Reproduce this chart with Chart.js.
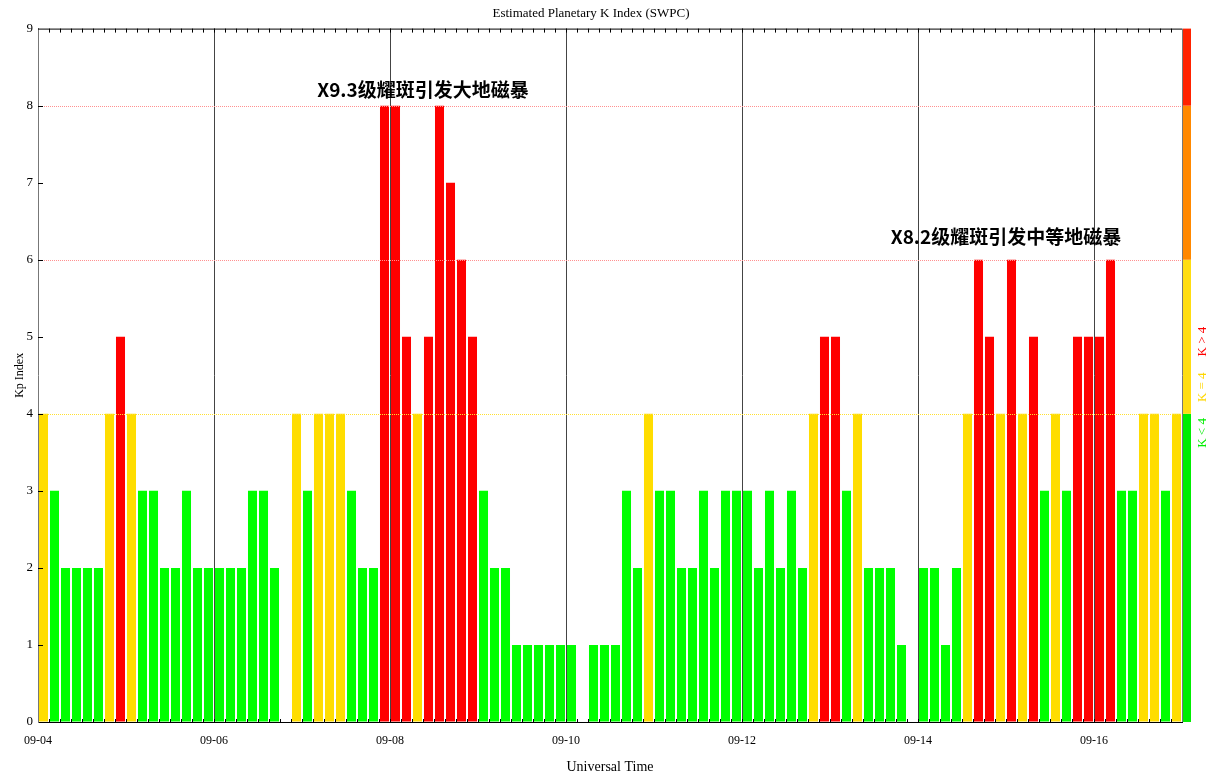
<!DOCTYPE html>
<html>
<head>
<meta charset="UTF-8">
<title>Estimated Planetary K Index (SWPC)</title>
<script src="https://cdn.jsdelivr.net/npm/chart.js@4"></script>
<style>body{margin:0;background:#fff}</style>
</head>
<body>
<div style="width:1221px;height:781px"><canvas id="canvas"></canvas></div>
<script>
// 3-hourly Kp, 8 values per day, starting 09-04 00UT (null = no data)
var kp = [
  4,3,2,2,2,2,4,5,        // 09-04
  4,3,3,2,2,3,2,2,        // 09-05
  2,2,2,3,3,2,null,4,     // 09-06
  3,4,4,4,3,2,2,8,        // 09-07
  8,5,4,5,8,7,6,5,        // 09-08
  3,2,2,1,1,1,1,1,        // 09-09
  1,null,1,1,1,3,2,4,     // 09-10
  3,3,2,2,3,2,3,3,        // 09-11
  3,2,3,2,3,2,4,5,        // 09-12
  5,3,4,2,2,2,1,null,     // 09-13
  2,2,1,2,4,6,5,4,        // 09-14
  6,4,5,3,4,3,5,5,        // 09-15
  5,6,3,3,4,4,3,4         // 09-16
];
var dayLabels = ['09-04','09-06','09-08','09-10','09-12','09-14','09-16'];
var slotsPerLabel = 16;   // 2 days x 8 slots

var barColor = {low: '#00FF00', equal: '#FFDD00', high: '#FF0000'};

// colour key on the right edge (Kp ranges)
var keyBands = [
  {from: 0, to: 4, color: '#00EE00'},
  {from: 4, to: 6, color: '#FFDD11'},
  {from: 6, to: 8, color: '#FF8800'},
  {from: 8, to: 9, color: '#FF2200'}
];
var keyTexts = [
  {text: 'K < 4', color: '#00EE00'},
  {text: 'K = 4', color: '#FFD700'},
  {text: 'K > 4', color: '#FF0000'}
];

// dotted reference lines
var refLines = [
  {y: 4, color: '#FFE030'},
  {y: 6, color: '#FF9090'},
  {y: 8, color: '#FF9090'}
];

// annotations, placed in data units (slot, Kp)
var notes = [
  {x: 35, y: 8.2, text: 'X9.3级耀斑引发大地磁暴'},
  {x: 88, y: 6.3, text: 'X8.2级耀斑引发中等地磁暴'}
];

var serif = '"Liberation Serif", "DejaVu Serif", serif';

var decor = {
  id: 'decor',
  afterDatasetsDraw: function(chart) {
    var ctx = chart.ctx, a = chart.chartArea;
    var xs = chart.scales.x, ys = chart.scales.y;
    ctx.save();

    // reference lines
    ctx.lineWidth = 1;
    ctx.setLineDash([1, 1]);
    refLines.forEach(function(r) {
      var py = Math.round(ys.getPixelForValue(r.y)) + 0.5;
      ctx.strokeStyle = r.color;
      ctx.beginPath(); ctx.moveTo(a.left, py); ctx.lineTo(a.right, py); ctx.stroke();
    });
    ctx.setLineDash([]);

    // frame
    ctx.strokeStyle = '#000';
    ctx.beginPath(); ctx.moveTo(a.left, a.top + 0.5); ctx.lineTo(a.right, a.top + 0.5); ctx.stroke();
    ctx.strokeStyle = '#777';
    ctx.beginPath(); ctx.moveTo(a.right + 0.5, a.top); ctx.lineTo(a.right + 0.5, a.bottom); ctx.stroke();

    // small inward ticks, one per 3h slot
    ctx.strokeStyle = '#000';
    ctx.beginPath();
    for (var i = 1; i < kp.length; i++) {
      var px = Math.round(xs.getPixelForValue(i)) + 0.5;
      ctx.moveTo(px, a.top); ctx.lineTo(px, a.top + 4);
      ctx.moveTo(px, a.bottom); ctx.lineTo(px, a.bottom - 3);
    }
    for (var k = 1; k < 9; k++) {
      var ty = Math.round(ys.getPixelForValue(k)) + 0.5;
      ctx.moveTo(a.left, ty); ctx.lineTo(a.left + 5, ty);
    }
    ctx.stroke();

    // colour key
    keyBands.forEach(function(b) {
      var y1 = ys.getPixelForValue(b.to), y2 = ys.getPixelForValue(b.from);
      ctx.fillStyle = b.color;
      ctx.fillRect(a.right + 1, y1, 8, y2 - y1);
    });

    // key texts, rotated, stacked upward from below the K=4 line
    ctx.font = '13px ' + serif;
    ctx.textBaseline = 'middle';
    ctx.textAlign = 'left';
    var pos = ys.getPixelForValue(4) + 34;
    ctx.translate(a.right + 21, 0);
    ctx.rotate(-Math.PI / 2);
    keyTexts.forEach(function(t) {
      ctx.fillStyle = t.color;
      ctx.fillText(t.text, -pos, 0);
      pos -= ctx.measureText(t.text).width + 16;
    });
    ctx.setTransform(1, 0, 0, 1, 0, 0);

    // annotations
    ctx.font = 'bold 19px "Noto Sans CJK SC", sans-serif';
    ctx.textAlign = 'center';
    ctx.textBaseline = 'middle';
    ctx.fillStyle = '#000';
    notes.forEach(function(n) {
      ctx.fillText(n.text, xs.getPixelForValue(n.x), ys.getPixelForValue(n.y));
    });
    ctx.restore();
  }
};

window.onload = function() {
  var ctx = document.getElementById('canvas').getContext('2d');
  new Chart(ctx, {
    type: 'bar',
    data: {
      datasets: [{
        label: 'Kp',
        data: kp.map(function(v, i) { return {x: i + 0.5, y: v}; }),
        backgroundColor: function(c) {
          var v = c.raw && c.raw.y;
          return v < 4 ? barColor.low : (v === 4 ? barColor.equal : barColor.high);
        },
        borderWidth: 0,
        barPercentage: 0.82,
        categoryPercentage: 1
      }]
    },
    options: {
      responsive: true,
      maintainAspectRatio: false,
      animation: false,
      layout: {padding: {left: 0, right: 39, top: 0, bottom: 0}},
      plugins: {
        legend: {display: false},
        tooltip: {enabled: false},
        title: {
          display: true,
          text: 'Estimated Planetary K Index (SWPC)',
          color: '#000',
          font: {family: serif, size: 13, weight: 'normal'},
          padding: {top: 6, bottom: 7}
        }
      },
      scales: {
        x: {
          type: 'linear',
          offset: false,
          min: 0,
          max: kp.length,
          afterBuildTicks: function(s) {
            s.ticks = dayLabels.map(function(l, i) { return {value: i * slotsPerLabel}; });
          },
          afterFit: function(s) { s.height = 59; },
          ticks: {
            autoSkip: false,
            maxRotation: 0,
            padding: 12,
            color: '#000',
            font: {family: serif, size: 12},
            callback: function(v) { return dayLabels[v / slotsPerLabel]; }
          },
          grid: {
            offset: false,
            drawTicks: false,
            color: function(c) { return c.tick && c.tick.value === 0 ? 'rgba(0,0,0,0)' : '#444'; }
          },
          border: {display: true, color: '#000'},
          title: {
            display: true,
            text: 'Universal Time',
            color: '#000',
            font: {family: serif, size: 14},
            padding: {top: 0, bottom: 5}
          }
        },
        y: {
          min: 0,
          max: 9,
          afterFit: function(s) { s.width = 38; },
          ticks: {
            stepSize: 1,
            padding: 5,
            color: '#000',
            font: {family: serif, size: 13}
          },
          grid: {display: true, drawOnChartArea: false, drawTicks: false},
          border: {display: true, color: '#777'},
          title: {
            display: true,
            text: 'Kp Index',
            color: '#000',
            font: {family: serif, size: 12},
            padding: {top: 13, bottom: 0}
          }
        }
      }
    },
    plugins: [decor]
  });
};
</script>
</body>
</html>
